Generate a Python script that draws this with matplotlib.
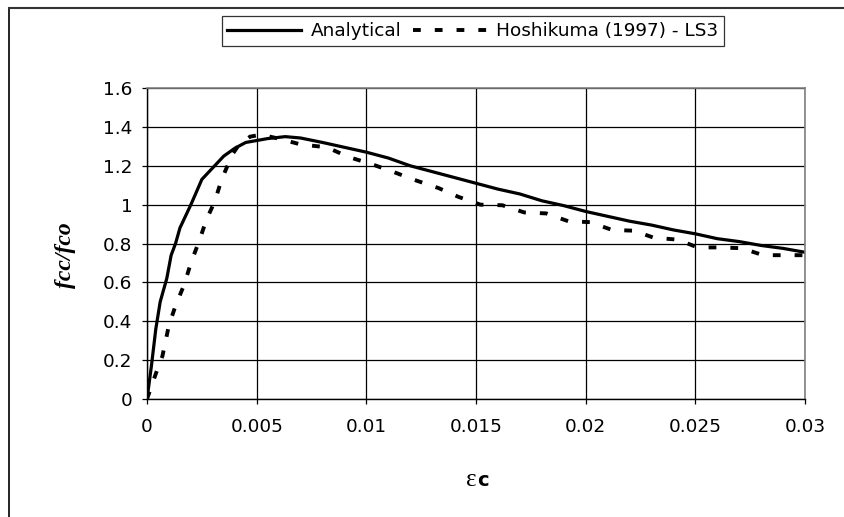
import matplotlib.pyplot as plt
from matplotlib.lines import Line2D

# Confined concrete stress-strain: analytical model vs Hoshikuma (1997) test LS3
strain_model = [0, 0.0002, 0.0004, 0.0006, 0.0009, 0.0011, 0.0013, 0.0015, 0.0020,
                0.0025, 0.0030, 0.0035, 0.0040, 0.0045, 0.0050, 0.0055, 0.0063, 0.0070,
                0.0080, 0.0090, 0.0100, 0.0110, 0.0120, 0.0130, 0.0140, 0.0150, 0.0160,
                0.0170, 0.0180, 0.0190, 0.0200, 0.0210, 0.0220, 0.0230, 0.0240, 0.0250,
                0.0260, 0.0270, 0.0280, 0.0290, 0.0300]
ratio_model = [0, 0.17, 0.36, 0.50, 0.62, 0.74, 0.80, 0.88, 1.00,
               1.13, 1.19, 1.25, 1.29, 1.32, 1.33, 1.34, 1.35, 1.343,
               1.32, 1.295, 1.27, 1.24, 1.20, 1.17, 1.14, 1.11, 1.08,
               1.055, 1.02, 0.995, 0.965, 0.94, 0.915, 0.895, 0.87, 0.85,
               0.825, 0.81, 0.79, 0.775, 0.755]

strain_test = [0, 0.0004, 0.0007, 0.0010, 0.0013, 0.0017, 0.0020, 0.0024, 0.0027,
               0.0031, 0.0034, 0.0039, 0.0042, 0.0047, 0.0052, 0.0060, 0.0070, 0.0082,
               0.0092, 0.0102, 0.0112, 0.0122, 0.0133, 0.0142, 0.0152, 0.0162, 0.0172,
               0.0182, 0.0192, 0.0202, 0.0212, 0.0222, 0.0231, 0.0242, 0.0251, 0.0261,
               0.0271, 0.0281, 0.0290, 0.0300]
ratio_test = [0, 0.13, 0.22, 0.38, 0.48, 0.59, 0.70, 0.82, 0.92,
              1.02, 1.13, 1.26, 1.31, 1.35, 1.36, 1.34, 1.31, 1.295,
              1.245, 1.21, 1.17, 1.127, 1.085, 1.04, 1.00, 0.997, 0.96,
              0.955, 0.915, 0.91, 0.87, 0.866, 0.83, 0.82, 0.78, 0.78,
              0.776, 0.74, 0.74, 0.74]

x_ticks = [0, 0.005, 0.01, 0.015, 0.02, 0.025, 0.03]
x_tick_labels = ['0', '0.005', '0.01', '0.015', '0.02', '0.025', '0.03']
y_ticks = [0, 0.2, 0.4, 0.6, 0.8, 1.0, 1.2, 1.4, 1.6]
y_tick_labels = ['0', '0.2', '0.4', '0.6', '0.8', '1', '1.2', '1.4', '1.6']

plt.rcParams['font.family'] = ['DejaVu Sans']

fig = plt.figure(figsize=(8.44, 5.17), dpi=100)
ax = fig.add_axes([0.1742, 0.2282, 0.7796, 0.6015])

ax.plot(strain_model, ratio_model, color='black', lw=2.3, label='Analytical')
ax.plot(strain_test, ratio_test, color='black', lw=2.8, linestyle=(0, (2.0, 3.6)),
        label='Hoshikuma (1997) - LS3')

ax.set_xlim(0, 0.03)
ax.set_ylim(0, 1.6)
ax.set_xticks(x_ticks)
ax.set_xticklabels(x_tick_labels)
ax.set_yticks(y_ticks)
ax.set_yticklabels(y_tick_labels)
ax.tick_params(labelsize=13.3, length=3.5, width=0.9, color='black')
ax.tick_params(axis='x', pad=10)
ax.tick_params(axis='y', pad=7)
ax.grid(True, color='black', lw=0.9)
ax.set_axisbelow(True)
for side in ['top', 'right']:
    ax.spines[side].set_color('#808080')
    ax.spines[side].set_linewidth(1.2)
for side in ['left', 'bottom']:
    ax.spines[side].set_color('black')
    ax.spines[side].set_linewidth(1.0)

# axis titles
fig.text(65 / 844, 1 - 255 / 517, 'fcc/fco', rotation=90, ha='center', va='center',
         family=['Liberation Serif'], style='italic', weight='bold', fontsize=17)
fig.text(476 / 844, 1 - 486 / 517, 'ε', ha='right', va='baseline',
         family=['Liberation Serif'], fontsize=18)
fig.text(477 / 844, 1 - 486 / 517, 'c', ha='left', va='baseline',
         weight='bold', fontsize=14)

leg = fig.legend(loc='center', bbox_to_anchor=(473 / 844, 1 - 31 / 517), ncol=2,
                 fontsize=13.3, frameon=True, fancybox=False, handlelength=4.0,
                 handletextpad=0.5, columnspacing=0.65, borderpad=0.3,
                 borderaxespad=0)
leg.get_frame().set_edgecolor('black')
leg.get_frame().set_linewidth(0.9)

# chart-area frame
fig.add_artist(Line2D([9 / 844, 9 / 844], [0, 1 - 8 / 517], color='black', lw=1.2))
fig.add_artist(Line2D([9 / 844, 1], [1 - 8 / 517, 1 - 8 / 517], color='#333333', lw=1.5))

fig.savefig('out.png', dpi=100)
